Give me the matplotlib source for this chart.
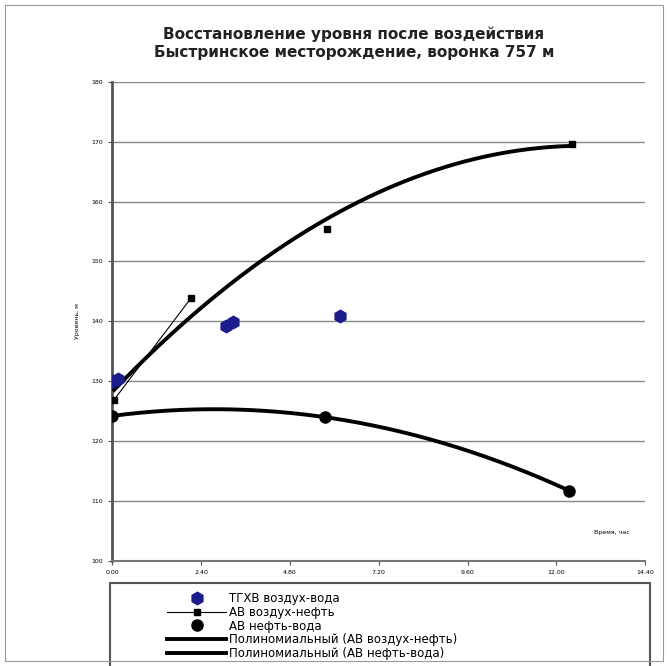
"""Recovery of the level after treatment, Bystrinskoye field."""

import matplotlib.pyplot as plt
import numpy as np

# ТГХВ воздух-вода
tghv_x = [0.03, 0.16, 3.07, 3.26, 6.15]
tghv_y = [130.0, 130.4, 139.2, 139.9, 140.9]

# АВ воздух-нефть
av_on_x = [0.05, 2.13, 5.80, 12.43]
av_on_y = [126.9, 143.9, 155.4, 169.6]

# АВ нефть-вода
av_nw_x = [0.0, 5.74, 12.35]
av_nw_y = [124.2, 124.0, 111.7]

x_ticks = [0.0, 2.4, 4.8, 7.2, 9.6, 12.0, 14.4]
y_ticks = [100, 110, 120, 130, 140, 150, 160, 170, 180]

TITLE = ("Восстановление уровня после воздействия\n"
         "Быстринское месторождение, воронка 757 м")


def main():
    fig = plt.figure(figsize=(6.68, 6.66), dpi=100)
    fig.patch.set_facecolor("white")
    ax = fig.add_axes([0.168, 0.158, 0.798, 0.719])

    ax.set_xlim(x_ticks[0], x_ticks[-1])
    ax.set_ylim(y_ticks[0], y_ticks[-1])
    ax.set_xticks(x_ticks)
    ax.set_yticks(y_ticks)
    ax.set_xticklabels([f"{v:.2f}" for v in x_ticks], fontsize=4.5)
    ax.set_yticklabels([str(v) for v in y_ticks], fontsize=4.5)
    ax.tick_params(length=3, width=0.8, color="#555555")
    ax.grid(axis="y", color="#888888", linewidth=1.0)
    ax.set_axisbelow(True)
    for side in ("top", "right"):
        ax.spines[side].set_visible(False)
    ax.spines["left"].set_color("#555555")
    ax.spines["left"].set_linewidth(2.0)
    ax.spines["bottom"].set_color("#777777")
    ax.spines["bottom"].set_linewidth(1.5)

    # polynomial trends (degree 2)
    xs_on = np.linspace(av_on_x[0], av_on_x[-1], 200)
    coef_on = np.polyfit(av_on_x, av_on_y, 2)
    xs_nw = np.linspace(av_nw_x[0], av_nw_x[-1], 200)
    coef_nw = np.polyfit(av_nw_x, av_nw_y, 2)

    ax.plot(tghv_x, tghv_y, linestyle="none", marker="h", markersize=9,
            color="#1c1c8a", label="ТГХВ воздух-вода", zorder=5)
    ax.plot(av_on_x[:2], av_on_y[:2], color="black", linewidth=0.8,
            marker="s", markersize=4.5, label="АВ воздух-нефть", zorder=4)
    ax.plot(av_on_x[2:], av_on_y[2:], linestyle="none", color="black",
            marker="s", markersize=4.5, zorder=4)
    ax.plot(av_nw_x, av_nw_y, linestyle="none", color="black",
            marker="o", markersize=8, label="АВ нефть-вода", zorder=4)
    ax.plot(xs_on, np.polyval(coef_on, xs_on), color="black", linewidth=2.8,
            label="Полиномиальный (АВ воздух-нефть)", zorder=3)
    ax.plot(xs_nw, np.polyval(coef_nw, xs_nw), color="black", linewidth=2.8,
            label="Полиномиальный (АВ нефть-вода)", zorder=3)

    ax.set_ylabel("Уровень, м", fontsize=4.5, labelpad=8)
    ax.text(0.97, 0.06, "Время, час", transform=ax.transAxes, fontsize=4.5,
            ha="right", va="center")

    fig.text(0.53, 0.935, TITLE, ha="center", va="center", fontsize=11,
             fontweight="bold", color="#222222", linespacing=1.3)

    # legend box below the plot, running off the bottom edge
    fig.add_artist(plt.Rectangle((110 / 668, -0.05), 540 / 668, 0.175,
                                 transform=fig.transFigure, fill=False,
                                 edgecolor="#555555", linewidth=1.5))
    handles, labels = ax.get_legend_handles_labels()
    fig.legend(handles, labels, loc="upper left",
               bbox_to_anchor=(165 / 668, 0.114), fontsize=8.5,
               frameon=False, handlelength=5, labelspacing=0.05,
               borderpad=0.2, handletextpad=0.2, borderaxespad=0)

    # outer frame around the whole chart
    fig.add_artist(plt.Rectangle((0.008, 0.008), 0.984, 0.984,
                                 transform=fig.transFigure, fill=False,
                                 edgecolor="#999999", linewidth=0.8))

    fig.savefig("out.png", dpi=100)
    plt.close(fig)


if __name__ == "__main__":
    main()
